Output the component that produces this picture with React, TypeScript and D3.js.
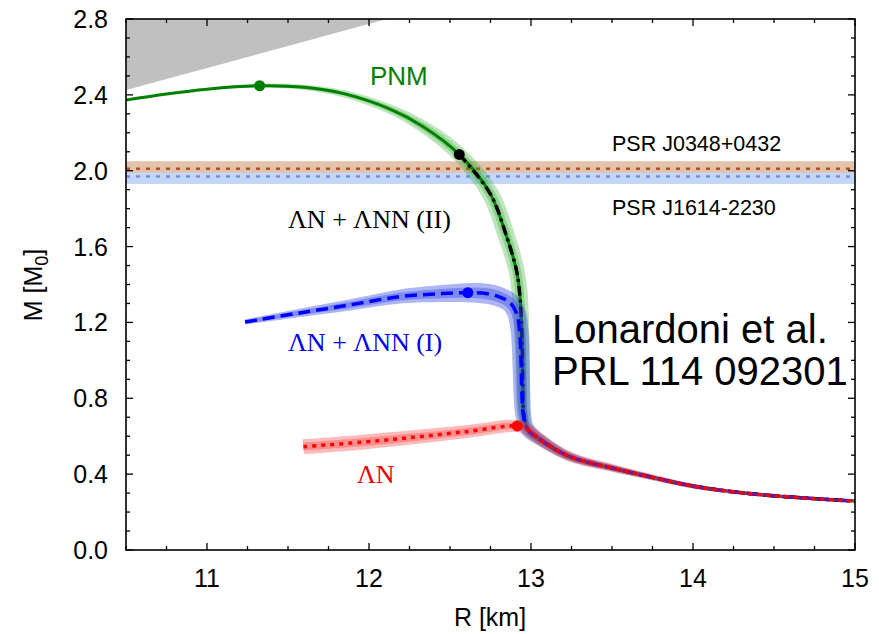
import React from 'react';
import * as d3 from 'd3';

const W = 879;
const H = 634;

// axes
const xDomain = [10.5, 15];
const yDomain = [0, 2.8];
const xTickLabels = [11, 12, 13, 14, 15];
const yTickLabels = [0.0, 0.4, 0.8, 1.2, 1.6, 2.0, 2.4, 2.8];

// causality-excluded region (grey)
const greyR = [10.5, 12.11, 10.5];
const greyM = [2.425, 2.8, 2.8];

// pulsar mass measurements
const psrNames = ['PSR J0348+0432', 'PSR J1614-2230'];
const psrMass = [2.01, 1.97];
const psrErr = [0.04, 0.04];

// PNM curve (green)
const pnmR = [10.5, 10.75, 11.0, 11.325, 11.6, 11.85, 12.13, 12.33, 12.557, 12.747, 12.85, 12.91, 12.93, 12.945, 12.95, 12.955, 12.98, 13.06, 13.24, 13.508, 13.714, 14.0, 14.33, 14.74, 15.0];
const pnmM = [2.373, 2.405, 2.43, 2.448, 2.44, 2.405, 2.325, 2.235, 2.086, 1.881, 1.652, 1.476, 1.355, 1.1, 0.85, 0.72, 0.635, 0.58, 0.492, 0.431, 0.39, 0.337, 0.299, 0.271, 0.258];
const pnmErr = [0.003, 0.004, 0.006, 0.011, 0.014, 0.019, 0.025, 0.032, 0.039, 0.045, 0.045, 0.042, 0.042, 0.039, 0.037, 0.034, 0.03, 0.026, 0.02, 0.016, 0.013, 0.011, 0.009, 0.008, 0.008];

// ΛN + ΛNN (II) (black) coincides with PNM below its maximum
const lnn2R = pnmR.slice(8);
const lnn2M = pnmM.slice(8);

// ΛN + ΛNN (I) (blue)
const lnn1R = [11.235, 11.55, 11.88, 12.19, 12.45, 12.61, 12.72, 12.8, 12.87, 12.91, 12.93, 12.94, 12.945, 12.955, 12.98, 13.06, 13.24, 13.508, 13.714, 14.0, 14.33, 14.74, 15.0];
const lnn1M = [1.202, 1.247, 1.292, 1.336, 1.352, 1.357, 1.352, 1.336, 1.305, 1.25, 1.15, 0.95, 0.80, 0.70, 0.635, 0.58, 0.492, 0.431, 0.39, 0.337, 0.299, 0.271, 0.258];
const lnn1Err = [0.013, 0.021, 0.029, 0.037, 0.045, 0.05, 0.053, 0.053, 0.051, 0.049, 0.047, 0.045, 0.044, 0.041, 0.038, 0.032, 0.022, 0.016, 0.013, 0.011, 0.009, 0.008, 0.008];

// ΛN (red)
const lnR = [11.595, 11.95, 12.27, 12.6, 12.915, 12.98, 13.06, 13.24, 13.508, 13.714, 14.0, 14.33, 14.74, 15.0];
const lnM = [0.545, 0.568, 0.594, 0.624, 0.654, 0.635, 0.58, 0.492, 0.431, 0.39, 0.337, 0.299, 0.271, 0.258];
const lnErr = [0.039, 0.039, 0.037, 0.034, 0.032, 0.032, 0.03, 0.026, 0.02, 0.016, 0.013, 0.011, 0.009, 0.008];

// maximum-mass points
const maxR = [11.325, 12.557, 12.61, 12.915];
const maxM = [2.448, 2.086, 1.357, 0.654];
const maxColor = ['#008000', '#000000', '#0000ff', '#ff0000'];

const SANS = 'Liberation Sans, Arial, Helvetica, sans-serif';
const SERIF = 'Liberation Serif, Times New Roman, serif';

const PL = 126, PR = 855, PT = 19, PB = 550;

export default function App() {
  const x = d3.scaleLinear().domain(xDomain).range([PL, PR]);
  const y = d3.scaleLinear().domain(yDomain).range([PB, PT]);
  const kM = Math.abs(y(1) - y(0));

  const curve = (R: number[], M: number[]) =>
    d3
      .line<[number, number]>()
      .x((d) => x(d[0]))
      .y((d) => y(d[1]))
      .curve(d3.curveCatmullRom.alpha(0.5))(R.map((r, i) => [r, M[i]] as [number, number])) || '';

  const band = (R: number[], M: number[], E: number[], f: number) => {
    const pts = R.map((r, i) => [x(r), y(M[i])]);
    const outer: [number, number][] = [];
    const inner: [number, number][] = [];
    for (let i = 0; i < pts.length; i++) {
      const a = pts[Math.max(0, i - 1)];
      const b = pts[Math.min(pts.length - 1, i + 1)];
      let tx = b[0] - a[0];
      let ty = b[1] - a[1];
      const L = Math.hypot(tx, ty) || 1;
      tx /= L;
      ty /= L;
      const nx = -ty;
      const ny = tx;
      const w = E[i] * kM * f;
      outer.push([pts[i][0] + nx * w, pts[i][1] + ny * w]);
      inner.push([pts[i][0] - nx * w, pts[i][1] - ny * w]);
    }
    const lg = d3.line<[number, number]>().curve(d3.curveCatmullRom.alpha(0.5));
    const p1 = lg(outer) || '';
    const p2 = lg(inner.reverse()) || '';
    return p1 + 'L' + p2.slice(1) + 'Z';
  };

  const xMinor = d3.range(xDomain[0], xDomain[1] + 0.001, 0.25);
  const yMinor = d3.range(yDomain[0], yDomain[1] + 0.001, 0.1);
  const isMajorX = (v: number) => Math.abs(v - Math.round(v)) < 1e-6;
  const isMajorY = (v: number) => Math.abs(v / 0.4 - Math.round(v / 0.4)) < 1e-6;

  const greyPath =
    d3
      .line<[number, number]>()
      .x((d) => x(d[0]))
      .y((d) => y(d[1]))(greyR.map((r, i) => [r, greyM[i]] as [number, number])) + 'Z';

  return (
    <svg
      width={W}
      height={H}
      style={{ position: 'absolute', left: 0, top: 0, background: '#fff' }}
      fontFamily={SANS}
    >
      <defs>
        <clipPath id="plot">
          <rect x={PL} y={PT} width={PR - PL} height={PB - PT} />
        </clipPath>
      </defs>
      <rect x={0} y={0} width={W} height={H} fill="#fff" />
      <g clipPath="url(#plot)">
        <path d={greyPath} fill="#c0c0c0" />
        {/* pulsar bands */}
        <rect x={PL} width={PR - PL} y={y(psrMass[1] + psrErr[1])} height={y(psrMass[1] - psrErr[1]) - y(psrMass[1] + psrErr[1])} fill="#c4d7f6" />
        <rect x={PL} width={PR - PL} y={y(psrMass[0] + psrErr[0])} height={(y(psrMass[0] - psrErr[0]) - y(psrMass[0] + psrErr[0])) * 0.75} fill="#e2c2ab" />
        <line x1={PL} x2={PR} y1={y(psrMass[1])} y2={y(psrMass[1])} stroke="#6f90e6" strokeWidth={2.5} strokeDasharray="4,6" />
        <line x1={PL} x2={PR} y1={y(psrMass[0])} y2={y(psrMass[0])} stroke="#b0521c" strokeWidth={2.5} strokeDasharray="4,6" />

        {/* PNM */}
        <path d={band(pnmR, pnmM, pnmErr, 1)} fill="rgb(40,170,40)" fillOpacity={0.3} />
        <path d={band(pnmR, pnmM, pnmErr, 0.55)} fill="rgb(40,170,40)" fillOpacity={0.3} />
        <path d={curve(pnmR, pnmM)} fill="none" stroke="#008000" strokeWidth={3} />
        <path d={curve(lnn2R, lnn2M)} fill="none" stroke="#000" strokeWidth={3.5} strokeDasharray="10,4,3,4" />

        {/* ΛN + ΛNN (I) */}
        <path d={band(lnn1R, lnn1M, lnn1Err, 1)} fill="rgb(40,60,225)" fillOpacity={0.38} />
        <path d={band(lnn1R, lnn1M, lnn1Err, 0.55)} fill="rgb(40,60,225)" fillOpacity={0.35} />
        <path d={curve(lnn1R, lnn1M)} fill="none" stroke="#0000ff" strokeWidth={3.5} strokeDasharray="12,6" />

        {/* ΛN */}
        <path d={band(lnR, lnM, lnErr, 1)} fill="rgb(245,40,40)" fillOpacity={0.32} />
        <path d={band(lnR, lnM, lnErr, 0.55)} fill="rgb(245,40,40)" fillOpacity={0.3} />
        <path d={curve(lnR, lnM)} fill="none" stroke="#ff0000" strokeWidth={3.5} strokeDasharray="4,5" />

        {maxR.map((r, i) => (
          <circle key={i} cx={x(r)} cy={y(maxM[i])} r={5.5} fill={maxColor[i]} />
        ))}
      </g>

      {/* frame */}
      <rect x={PL} y={PT} width={PR - PL} height={PB - PT} fill="none" stroke="#000" strokeWidth={1.6} />
      {xMinor.map((v, i) => {
        const len = isMajorX(v) ? 7 : 4;
        return (
          <g key={'xt' + i}>
            <line x1={x(v)} x2={x(v)} y1={PB} y2={PB - len} stroke="#000" strokeWidth={1.3} />
            <line x1={x(v)} x2={x(v)} y1={PT} y2={PT + len} stroke="#000" strokeWidth={1.3} />
          </g>
        );
      })}
      {yMinor.map((v, i) => {
        const len = isMajorY(v) ? 7 : 4;
        return (
          <g key={'yt' + i}>
            <line x1={PL} x2={PL + len} y1={y(v)} y2={y(v)} stroke="#000" strokeWidth={1.3} />
            <line x1={PR} x2={PR - len} y1={y(v)} y2={y(v)} stroke="#000" strokeWidth={1.3} />
          </g>
        );
      })}
      {xTickLabels.map((v) => (
        <text key={'xl' + v} x={x(v)} y={587} textAnchor="middle" fontSize={25} fill="#000">
          {v}
        </text>
      ))}
      {yTickLabels.map((v) => (
        <text key={'yl' + v} x={108} y={y(v)} dy="0.36em" textAnchor="end" fontSize={25} fill="#000">
          {v.toFixed(1)}
        </text>
      ))}
      <text x={490} y={626} textAnchor="middle" fontSize={25}>
        R [km]
      </text>
      <text transform="translate(42,285) rotate(-90)" textAnchor="middle" fontSize={25}>
        M [M<tspan fontSize={18} dy={6}>0</tspan>
        <tspan dy={-6}>]</tspan>
      </text>

      {/* annotations */}
      <text x={370} y={85} fontSize={26} fill="#008000">PNM</text>
      <text x={288} y={228} fontSize={26} fontFamily={SERIF} fill="#000">ΛN + ΛNN (II)</text>
      <text x={288} y={351} fontSize={26} fontFamily={SERIF} fill="#0000ee">ΛN + ΛNN (I)</text>
      <text x={357} y={483} fontSize={26} fontFamily={SERIF} fill="#ee0000">ΛN</text>
      <text x={612} y={151} fontSize={21.5} fill="#000">{psrNames[0]}</text>
      <text x={612} y={215} fontSize={21.5} fill="#000">{psrNames[1]}</text>
      <text x={552} y={343} fontSize={40} fill="#000">Lonardoni et al.</text>
      <text x={552} y={385} fontSize={40} fill="#000">PRL 114 092301</text>
    </svg>
  );
}
